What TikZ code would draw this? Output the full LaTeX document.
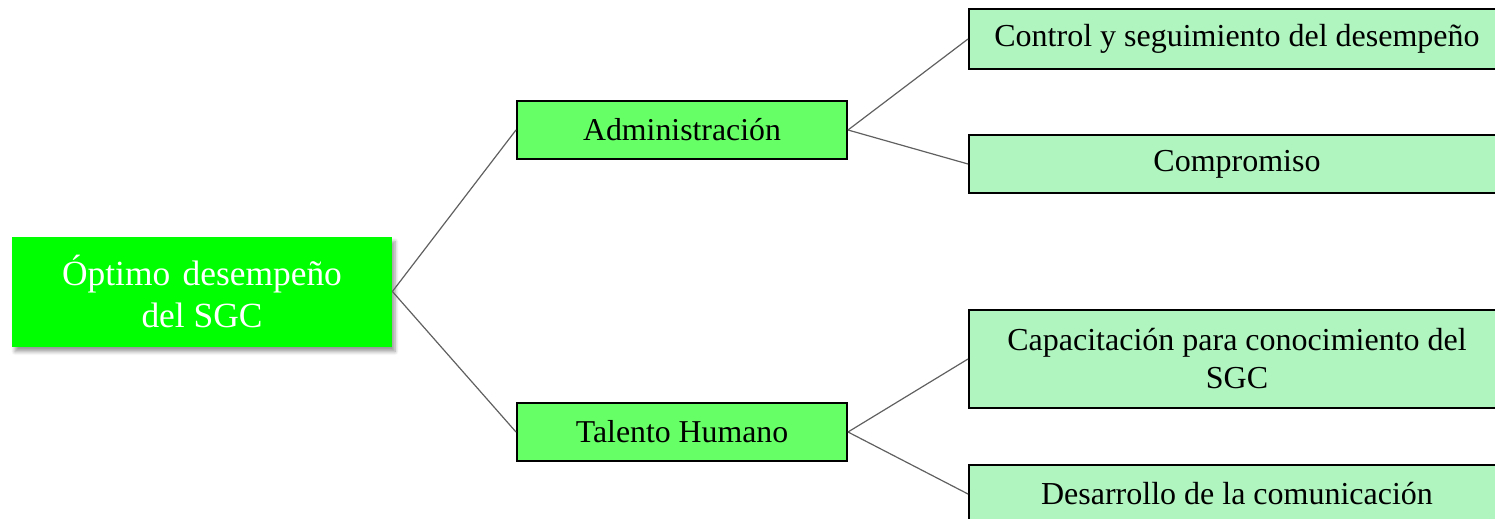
\documentclass[tikz,border=0pt]{standalone}
\usepackage{fontspec}
\setmainfont{Liberation Serif}
\usepackage{tikz}
\usetikzlibrary{positioning,shadows.blur}
\definecolor{sgcRoot}{HTML}{00FF00}
\definecolor{sgcMid}{HTML}{66FF66}
\definecolor{sgcLeaf}{HTML}{B0F5C0}
\definecolor{sgcLine}{HTML}{606060}
\tikzset{
  rootbox/.style={fill=sgcRoot,text=white,minimum width=190pt,minimum height=55pt,
                  align=center,font=\fontsize{17.7}{21}\selectfont,
                  blur shadow={shadow xshift=1.5pt,shadow yshift=-2.5pt,shadow blur steps=6}},
  midbox/.style={fill=sgcMid,draw=black,line width=1pt,minimum width=165pt,minimum height=29pt,
                 font=\fontsize{15.9}{19}\selectfont},
  leafbox/.style={fill=sgcLeaf,draw=black,line width=1pt,minimum width=268pt,
                  align=center,font=\fontsize{16}{19}\selectfont},
  link/.style={draw=sgcLine,line width=0.6pt},
}
\begin{document}
\begin{tikzpicture}[x=0.5pt,y=-0.5pt]
    \useasboundingbox (0,0) rectangle (1495,519);
    \clip (0,0) rectangle (1495,519);
    \node[rootbox] (root) at (202,291.5) {Óptimo\hspace{0.35em}desempeño\\del SGC};
    \node[midbox] (admin) at (682,130) {Administración};
    \node[midbox] (talento) at (682,432) {Talento Humano};
    \node[leafbox,minimum height=30pt] (control) at (1237,39) {Control y seguimiento del desempeño};
    \node[leafbox,minimum height=29pt] (compromiso) at (1237,164) {Compromiso};
    \node[leafbox,minimum height=49pt] (capacitacion) at (1237,359) {Capacitación para conocimiento del\\SGC};
    \node[leafbox,minimum height=29pt] (desarrollo) at (1237,494) {Desarrollo de la comunicación};
    \draw[link] (root.east) -- (admin.west);
    \draw[link] (root.east) -- (talento.west);
    \draw[link] (admin.east) -- (control.west);
    \draw[link] (admin.east) -- (compromiso.west);
    \draw[link] (talento.east) -- (capacitacion.west);
    \draw[link] (talento.east) -- (desarrollo.west);
  \end{tikzpicture}
\end{document}
